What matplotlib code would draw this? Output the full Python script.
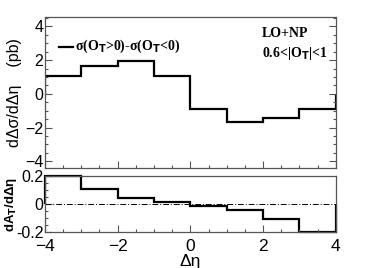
import numpy as np
import matplotlib
matplotlib.use('Agg')
import matplotlib.pyplot as plt
from matplotlib.ticker import MultipleLocator

plt.rcParams['font.family'] = ['Liberation Sans', 'DejaVu Sans']
plt.rcParams['mathtext.fontset'] = 'custom'
plt.rcParams['mathtext.rm'] = 'Liberation Sans'
plt.rcParams['mathtext.it'] = 'Liberation Sans'

# bin edges in delta eta
edges = [-4, -3, -2, -1, 0, 1, 2, 3, 4]
# d(delta sigma)/d(delta eta), pb
dsigma = [1.07, 1.68, 1.97, 1.07, -0.90, -1.64, -1.46, -0.90]
# dA_T/d(delta eta)
asym = [0.20, 0.11, 0.043, 0.012, -0.014, -0.04, -0.11, -0.20]

fig = plt.figure(figsize=(3.74, 2.68), dpi=100)
ax1 = fig.add_axes([0.120, 0.373, 0.778, 0.563])
ax2 = fig.add_axes([0.120, 0.134, 0.778, 0.209])

frame = '#555555'
for ax in (ax1, ax2):
    for s in ax.spines.values():
        s.set_color(frame)
        s.set_linewidth(0.9)
    ax.set_xlim(-4, 4)
    ax.xaxis.set_major_locator(MultipleLocator(2))
    ax.xaxis.set_minor_locator(MultipleLocator(0.5))
    ax.tick_params(which='both', direction='in', colors=frame, labelcolor='black',
                   labelsize=11.5, width=0.8, pad=1)
    ax.tick_params(which='major', length=5)
    ax.tick_params(which='minor', length=2.5)

# top panel
ax1.stairs(dsigma, edges, color='black', linewidth=1.6)
ax1.set_ylim(-4.4, 4.55)
ax1.yaxis.set_major_locator(MultipleLocator(2))
ax1.yaxis.set_minor_locator(MultipleLocator(0.5))
ax1.tick_params(axis='y', which='both', right=True)
ax1.tick_params(axis='x', labelbottom=False)
ax1.set_ylabel('dΔσ/dΔη    (pb)', fontsize=11.5, labelpad=2)
serif = {'family': 'Liberation Serif', 'weight': 'bold', 'size': 10}
ax1.plot([-3.62, -3.22], [2.8, 2.8], color='black', linewidth=1.6)
ax1.text(-3.16, 2.8, 'σ(O$_{\\mathbf{T}}$>0)-σ(O$_{\\mathbf{T}}$<0)', va='center', ha='left',
         fontdict=serif)
ax1.text(1.96, 3.6, 'LO+NP', va='center', ha='left', fontdict=serif)
ax1.text(1.96, 2.4, '0.6<|O$_{\\mathbf{T}}$|<1', va='center', ha='left', fontdict=serif)

# bottom panel
ax2.stairs(asym, edges, color='black', linewidth=1.6, clip_on=False)
ax2.axhline(0, color='black', linewidth=0.7, linestyle=(0, (6, 2, 1, 2)))
ax2.set_ylim(-0.2, 0.2)
ax2.set_yticks([-0.2, 0, 0.2])
ax2.set_yticklabels(['-0.2', '0', '0.2'])
ax2.yaxis.set_minor_locator(MultipleLocator(0.05))
ax2.tick_params(axis='x', labelsize=12.5, pad=5)
ax2.set_ylabel('dA$_\\mathbf{T}$/dΔη', fontsize=9.5, fontweight='bold')
ax2.yaxis.set_label_coords(-0.09, 0.5)
ax2.set_xlabel('Δη', fontsize=12.5, labelpad=0)

fig.savefig('out.png', dpi=100)
